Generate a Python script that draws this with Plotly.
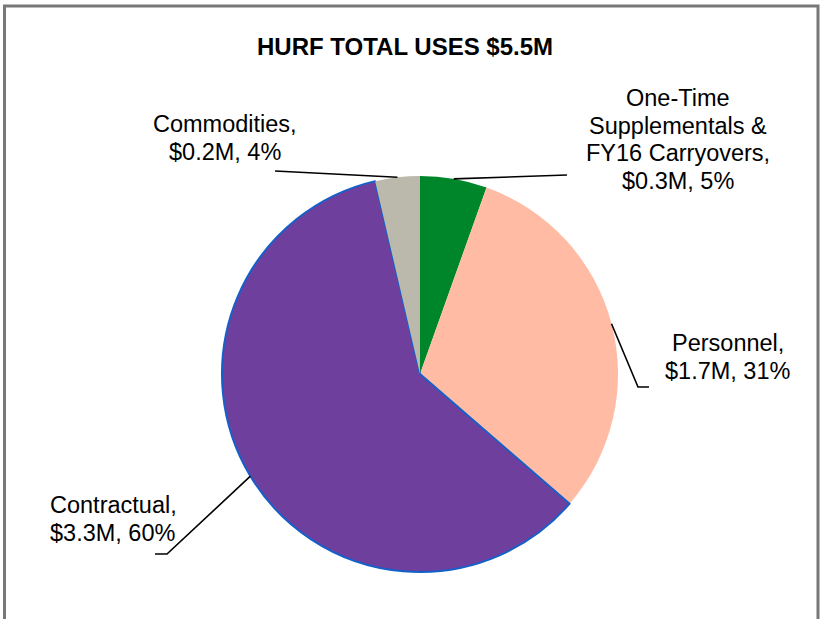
import plotly.graph_objects as go
import math

# Budget uses, in millions of dollars, clockwise from 12 o'clock
name_lines = [
    ["One-Time", "Supplementals &", "FY16 Carryovers"],
    ["Personnel"],
    ["Contractual"],
    ["Commodities"],
]
categories = [" ".join(n) for n in name_lines]
values = [0.3, 1.7, 3.3, 0.2]
colors = ["#00862a", "#ffbba4", "#6f3f9e", "#bbb8ac"]
title_text = "HURF TOTAL USES $5.5M"

W, H = 820, 619
CX, CY, R = 420, 374, 198          # pie centre and radius (px)
FONT = "Liberation Sans, Arial, sans-serif"
LABEL_SIZE = 23.5
LINE_H = 27.7

# label placement: centre x, first baseline y, leader path end points
label_layout = [
    {"x": 678, "y": 106, "path": [(567, 175)]},
    {"x": 728, "y": 351, "path": [(638, 387), (649, 387)]},
    {"x": 113, "y": 513, "path": [(167, 554), (155, 554)]},
    {"x": 225, "y": 132, "path": [(275, 171)]},
]

total = sum(values)
pcts = [round(v / total * 100) for v in values]

fig = go.Figure()

# invisible pixel-space axes for overlays
fig.update_xaxes(range=[0, W], visible=False, fixedrange=True)
fig.update_yaxes(range=[H, 0], visible=False, fixedrange=True)

fig.add_trace(go.Pie(
    labels=categories,
    values=values,
    sort=False,
    direction="clockwise",
    rotation=0,
    textinfo="none",
    hoverinfo="label+value+percent",
    showlegend=False,
    marker=dict(
        colors=colors,
        line=dict(color=["rgba(0,0,0,0)", "rgba(0,0,0,0)", "#1560c8", "rgba(0,0,0,0)"],
                  width=[0, 0, 2, 0]),
    ),
    domain=dict(x=[(CX - R) / W, (CX + R) / W],
                y=[(H - CY - R) / H, (H - CY + R) / H]),
))

shapes = []
annotations = []

# leader lines from each slice's mid-angle on the rim, plus labels
cum = 0.0
for i, v in enumerate(values):
    mid = (cum + v / 2) / total * 2 * math.pi
    cum += v
    sx = CX + R * math.sin(mid)
    sy = CY - R * math.cos(mid)
    pts = [(sx, sy)] + label_layout[i]["path"]
    path = "M " + " L ".join(f"{px:.1f},{py:.1f}" for px, py in pts)
    shapes.append(dict(type="path", path=path, xref="x", yref="y",
                       line=dict(color="#000000", width=1.6), layer="above"))

    lines = list(name_lines[i])
    lines[-1] = lines[-1] + ","
    lines.append(f"${v:.1f}M, {pcts[i]}%")
    for k, ln in enumerate(lines):
        base = label_layout[i]["y"] + k * LINE_H
        annotations.append(dict(
            x=label_layout[i]["x"], y=base - 8, xref="x", yref="y",
            text=ln, showarrow=False, xanchor="center", yanchor="middle",
            font=dict(family=FONT, size=LABEL_SIZE, color="#000000"),
        ))

# chart title
annotations.append(dict(
    x=405, y=46, xref="x", yref="y", text=f"<b>{title_text}</b>",
    showarrow=False, xanchor="center", yanchor="middle",
    font=dict(family=FONT, size=24, color="#000000"),
))

# chart frame
shapes.append(dict(type="rect", xref="x", yref="y", x0=4.5, y0=6, x1=818, y1=640,
                   line=dict(color="#787878", width=3), layer="above"))

fig.update_layout(
    width=W, height=H,
    margin=dict(l=0, r=0, t=0, b=0),
    paper_bgcolor="white",
    plot_bgcolor="white",
    shapes=shapes,
    annotations=annotations,
)

fig.write_html("out.html")
